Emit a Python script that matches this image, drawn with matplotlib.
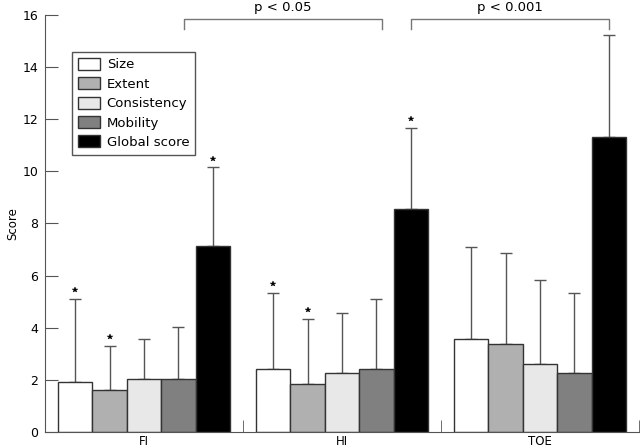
import matplotlib
matplotlib.use("Agg")
import matplotlib.pyplot as plt
import numpy as np
from matplotlib.patches import Patch

groups = ["FI", "HI", "TOE"]
series = ["Size", "Extent", "Consistency", "Mobility", "Global score"]
colors = ["#ffffff", "#b0b0b0", "#e8e8e8", "#808080", "#000000"]

means = {
    "Size":         [1.92, 2.42, 3.57],
    "Extent":       [1.62, 1.85, 3.38],
    "Consistency":  [2.05, 2.25, 2.60],
    "Mobility":     [2.05, 2.40, 2.28],
    "Global score": [7.15, 8.57, 11.30],
}
upper = {
    "Size":         [5.10, 5.33, 7.08],
    "Extent":       [3.30, 4.35, 6.88],
    "Consistency":  [3.57, 4.57, 5.85],
    "Mobility":     [4.03, 5.10, 5.33],
    "Global score": [10.15, 11.67, 15.25],
}
# bars marked with a star: (series, group index)
stars = [("Size", 0), ("Extent", 0), ("Global score", 0),
         ("Size", 1), ("Extent", 1), ("Global score", 1)]
brackets = [(0.202, 1.202, "p < 0.05"), (1.348, 2.348, "p < 0.001")]

fig = plt.figure(figsize=(6.4, 4.47), dpi=100)
ax = fig.add_axes([0.0703, 0.0336, 0.9281, 0.9329])

x = np.arange(len(groups))
w = 0.174
edge = "#333333"
for i, s in enumerate(series):
    xs = x + (i - 2) * w
    m = np.array(means[s])
    err = np.array(upper[s]) - m
    ax.bar(xs, m, w, color=colors[i], edgecolor=edge, linewidth=1.0, zorder=2)
    ax.errorbar(xs, m, yerr=[np.zeros_like(err), err], fmt="none",
                ecolor="#555555", elinewidth=1.0, capsize=4, capthick=1.0, zorder=1)

for s, g in stars:
    i = series.index(s)
    ax.plot(x[g] + (i - 2) * w, upper[s][g] + 0.33, marker="*", color="black",
            markersize=4, markeredgewidth=0.3, zorder=3)

for x0, x1, label in brackets:
    ax.plot([x0, x0, x1, x1], [15.47, 15.85, 15.85, 15.47], color="#777777",
            linewidth=1.0, clip_on=False)
    ax.text((x0 + x1) / 2, 16.05, label, ha="center", va="bottom", fontsize=9.5,
            clip_on=False)

ax.set_xlim(-0.5, 2.5)
ax.set_ylim(0, 16)
ax.set_yticks(np.arange(0, 17, 2))
ax.set_xticks(x)
ax.set_xticklabels(groups)
ax.set_xticks([0.5, 1.5, 2.5], minor=True)
ax.tick_params(axis="x", which="major", length=0, labelsize=8.5, pad=2)
ax.tick_params(axis="x", which="minor", direction="in", length=9, color="#555555")
ax.tick_params(axis="y", direction="in", length=9, color="#555555", labelsize=9, pad=5)
ax.set_ylabel("Score", fontsize=8.5)
ax.yaxis.set_label_coords(-0.043, 0.5)

for sp in ["top", "right"]:
    ax.spines[sp].set_visible(False)
for sp in ["left", "bottom"]:
    ax.spines[sp].set_color("#555555")

handles = [Patch(facecolor=c, edgecolor=edge, label=s) for s, c in zip(series, colors)]
ax.legend(handles=handles, loc="upper left", bbox_to_anchor=(0.045, 0.911),
          borderaxespad=0, fancybox=False, edgecolor="#555555", fontsize=9.5,
          handlelength=1.7, handleheight=1.0, labelspacing=0.45, handletextpad=0.5,
          borderpad=0.45, framealpha=1)

fig.savefig("out.png", dpi=100)
